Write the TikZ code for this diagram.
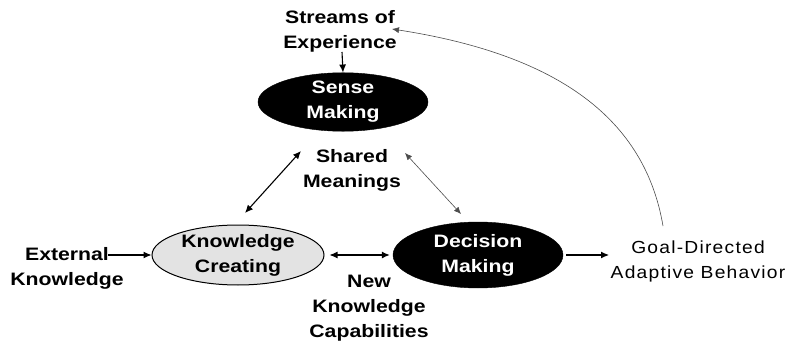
\documentclass[tikz,border=0pt]{standalone}
\usepackage{fontspec}
\setmainfont{Liberation Sans}[FakeStretch=1.18]
\newfontfamily\goalfont{Liberation Sans}[FakeStretch=1.1, LetterSpace=7]
\usetikzlibrary{arrows.meta,shapes.geometric}
\begin{document}
\begin{tikzpicture}[x=1pt,y=-1pt,
  lbl/.style={font=\fontsize{18}{25}\selectfont\bfseries, align=center, inner sep=0pt},
  plain/.style={font=\goalfont\fontsize{17.5}{25}\selectfont, align=center, inner sep=0pt},
  blackell/.style={ellipse, fill=black, draw=black, text=white, inner sep=0pt,
     font=\fontsize{18}{25}\selectfont\bfseries, align=center},
  grayell/.style={ellipse, fill=gray!22, draw=black, line width=1pt, inner sep=0pt,
     font=\fontsize{18}{25}\selectfont\bfseries, align=center},
  arr/.style={line width=1.1pt, -{Latex[length=8pt,width=7pt]}},
  darr/.style={line width=1.1pt, {Latex[length=8pt,width=7pt]}-{Latex[length=8pt,width=7pt]}},
  thin/.style={line width=0.6pt, draw=black!70, {Latex[length=7pt,width=6pt]}-{Latex[length=7pt,width=6pt]}}
]
\useasboundingbox (0,0) rectangle (792,350);

\node[lbl] (streams) at (340,31) {Streams of\\Experience};
\node[blackell, minimum width=170pt, minimum height=50pt] (sense) at (343,102) {Sense\\Making};
\node[lbl] (shared) at (352,170) {Shared\\Meanings};
\node[grayell, minimum width=172pt, minimum height=60pt] (kc) at (238,255) {Knowledge\\Creating};
\node[blackell, minimum width=170pt, minimum height=66pt] (dm) at (478,255) {Decision\\Making};
\node[lbl] (ext) at (67,268) {External\\Knowledge};
\node[lbl] (nkc) at (369,308) {New\\Knowledge\\Capabilities};
\node[plain] (goal) at (698,261) {Goal-Directed\\Adaptive Behavior};

\coordinate (sd) at (342,52);
\coordinate (st) at (392,29);
\coordinate (gt) at (663,226);
\coordinate (l1) at (301,151);
\coordinate (l2) at (245,213);
\coordinate (r1) at (405,153);
\coordinate (r2) at (461,214);
\coordinate (ee) at (108,255);
\coordinate (ge) at (609,255);

\draw[arr] (sd) -- (sense.north);
\draw[arr] (ee) -- (kc.west);
\draw[darr] ([xshift=5pt]kc.east) -- ([xshift=-3pt]dm.west);
\draw[arr] ([xshift=3pt]dm.east) -- (ge);
\draw[darr] (l1) -- (l2);
\draw[thin] (r1) -- (r2);
\draw[line width=0.6pt, draw=black!70, -{Latex[length=7pt,width=6pt]}]
  (gt) .. controls (645,120) and (560,55) .. (st);
\end{tikzpicture}
\end{document}
